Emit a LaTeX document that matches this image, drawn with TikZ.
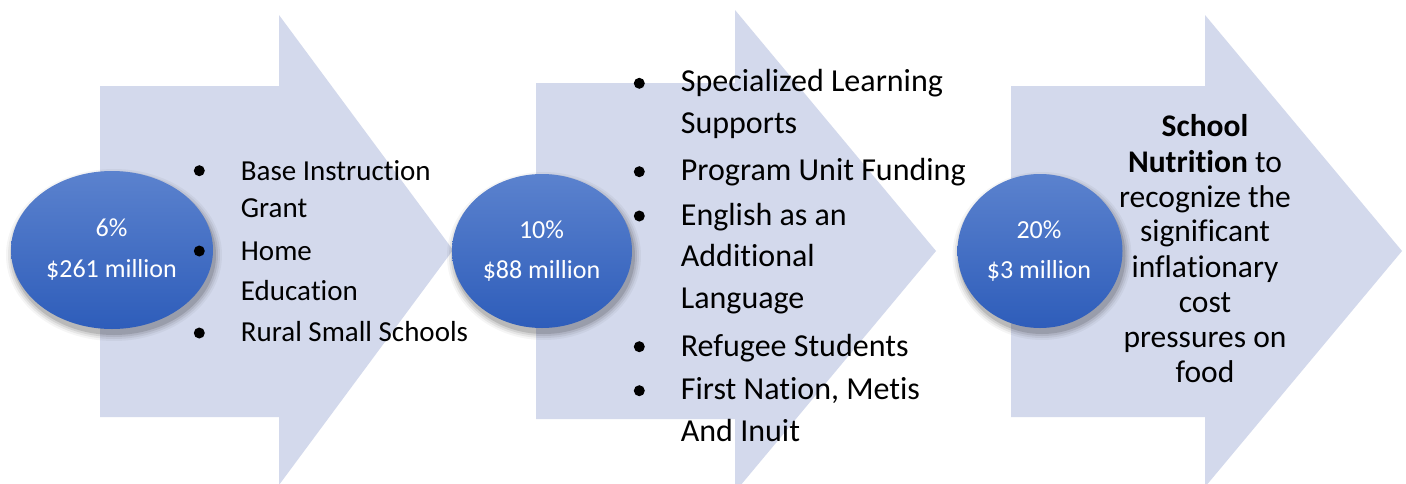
\documentclass[tikz,border=0pt]{standalone}
\usepackage{fontspec}
\setmainfont[Ligatures={NoCommon,NoContextual,NoRare},Contextuals={NoAlternate}]{Carlito}
\usetikzlibrary{shapes.geometric}
\newcommand\brk{\kern0pt}
\definecolor{arrowfill}{HTML}{D3D9EC}
\definecolor{ovtop}{HTML}{5B82CE}
\definecolor{ovmid}{HTML}{4472C4}
\definecolor{ovbot}{HTML}{2E5DBA}
\begin{document}
\begin{tikzpicture}[x=1pt,y=-1pt,
  bigarrow/.style={fill=arrowfill, draw=none},
  oval/.style={ellipse, inner sep=0pt, draw=none, top color=ovtop, middle color=ovmid, bottom color=ovbot},
  ovtext/.style={text=white, font=\fontsize{26}{30}\selectfont, anchor=base, inner sep=0pt},
  listA/.style={font=\fontsize{29}{34}\selectfont, anchor=base west, inner sep=0pt},
  listB/.style={font=\fontsize{32}{38}\selectfont, anchor=base west, inner sep=0pt},
  listC/.style={font=\fontsize{31.5}{36}\selectfont, anchor=base, inner sep=0pt},
  dotmark/.style={circle, fill=black, draw=none, inner sep=0pt, minimum size=11pt},
]
\useasboundingbox (0,0) rectangle (1406,483);
\clip (0,0) rectangle (1406,483);
\fill[white] (0,0) rectangle (1406,483);

% ---------- big arrows ----------
\fill[bigarrow] (100,86) -- (279,86) -- (279,15) -- (453,250) -- (279,485) -- (279,417) -- (100,417) -- cycle;
\fill[bigarrow] (536,83) -- (735,83) -- (735,10) -- (936,251) -- (735,492) -- (735,419) -- (536,419) -- cycle;
\fill[bigarrow] (1011,86) -- (1205,86) -- (1205,15) -- (1402,251) -- (1205,487) -- (1205,417) -- (1011,417) -- cycle;

% ---------- shadows of the ovals ----------
\foreach \cx/\cy/\rx/\ry in {112/250/101/79, 542/251/90/77, 1040/251/82.5/77}{
  \foreach \k/\op in {7/0.04, 5/0.06, 3/0.08, 1/0.12}{
    \fill[black, opacity=\op] (\cx+2, \cy+5) ellipse ({(\rx+\k)*1pt} and {(\ry+\k)*1pt});
  }
}

% ---------- ovals ----------
\node[oval, minimum width=202pt, minimum height=158pt] (o1) at (112,250) {};
\node[oval, minimum width=180pt, minimum height=154pt] (o2) at (542,251) {};
\node[oval, minimum width=165pt, minimum height=154pt] (o3) at (1040,251) {};

\node[ovtext] (o1a) at (111.5,236.7) {6\%};
\node[ovtext] (o1b) at (111.5,277.3) {\$261 million};
\node[ovtext] (o2a) at (541.5,238.3) {10\%};
\node[ovtext] (o2b) at (541.5,278.3) {\$88 million};
\node[ovtext] (o3a) at (1039,238.3) {20\%};
\node[ovtext] (o3b) at (1039,278.3) {\$3 million};

% ---------- list 1 ----------
\node[dotmark] (b1a) at (199.3,170.7) {};
\node[dotmark] (b1b) at (199.3,251) {};
\node[dotmark] (b1c) at (199.3,333) {};
\node[listA] (l1a) at (240.7,180) {Base Instruc\brk t\brk ion};
\node[listA] (l1b) at (240.7,217.7) {Grant};
\node[listA] (l1c) at (240.7,260) {Home};
\node[listA] (l1d) at (240.7,300) {Educa\brk t\brk ion};
\node[listA] (l1e) at (240.7,341.7) {Rural Small Schools};

% ---------- list 2 ----------
\node[dotmark] (b2a) at (639.3,83.3) {};
\node[dotmark] (b2b) at (639.3,171.7) {};
\node[dotmark] (b2c) at (639.3,216) {};
\node[dotmark] (b2d) at (639.3,346.7) {};
\node[dotmark] (b2e) at (639.3,390.7) {};
\node[listB] (l2a) at (680.7,91.7) {Specialized Learning};
\node[listB] (l2b) at (680.7,133.3) {Supports};
\node[listB] (l2c) at (680.7,180.7) {Program Unit Funding};
\node[listB] (l2d) at (680.7,225) {English as an};
\node[listB] (l2e) at (680.7,266.7) {Addi\brk t\brk ional};
\node[listB] (l2f) at (680.7,308.3) {Language};
\node[listB] (l2g) at (680.7,356) {Refugee Students};
\node[listB] (l2h) at (680.7,399.3) {First Nation, Metis};
\node[listB] (l2i) at (680.7,441.7) {And Inuit};

% ---------- text 3 ----------
\node[listC] (l3a) at (1205,136.7) {\bfseries School};
\node[listC] (l3b) at (1205,172.7) {{\bfseries Nutri\brk t\brk ion} to};
\node[listC] (l3c) at (1205,207.3) {recognize the};
\node[listC] (l3d) at (1205,241.7) {signif\brk icant};
\node[listC] (l3e) at (1205,277.3) {inf\brk la\brk t\brk ionary};
\node[listC] (l3f) at (1205,312.7) {cost};
\node[listC] (l3g) at (1205,347.7) {pressures on};
\node[listC] (l3h) at (1205,382.7) {food};
\end{tikzpicture}
\end{document}
